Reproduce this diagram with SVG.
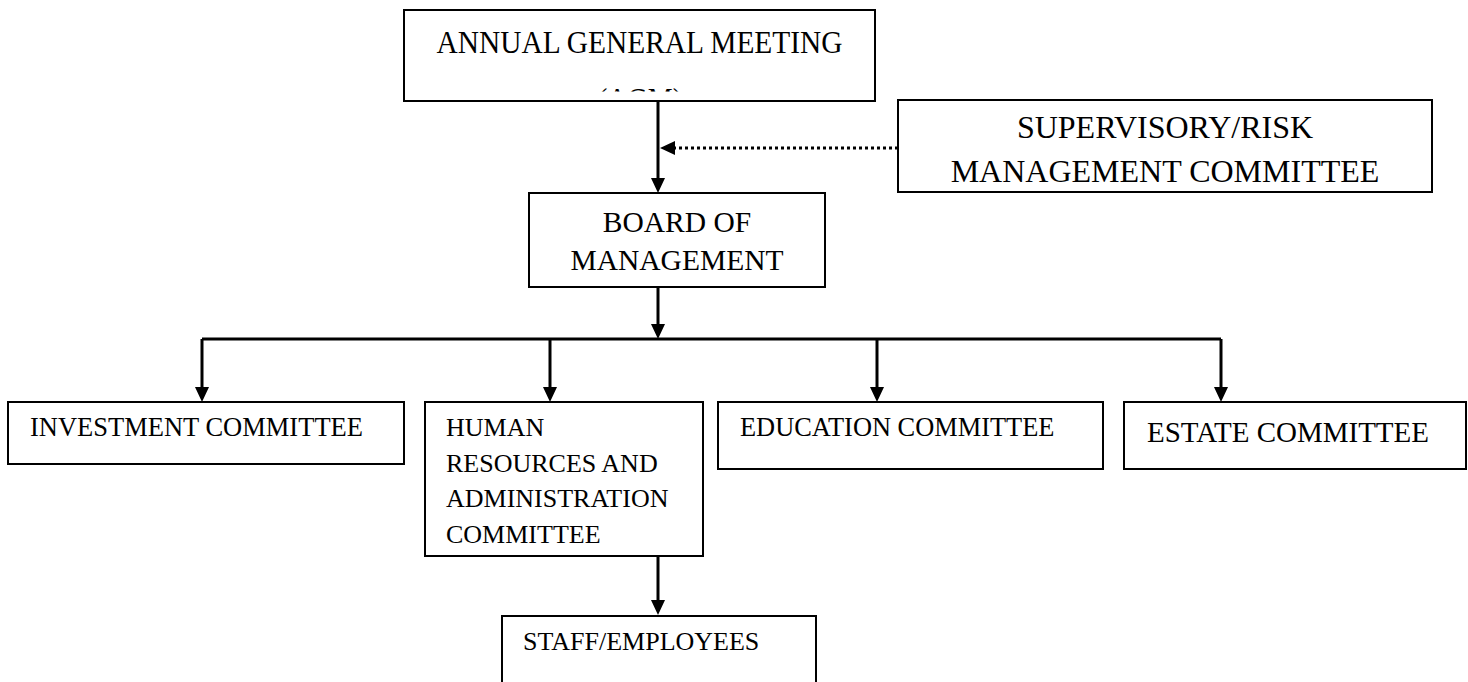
<svg xmlns="http://www.w3.org/2000/svg" width="1468" height="682" viewBox="0 0 1468 682">
  <style>
    .box { fill: #ffffff; stroke: #000000; stroke-width: 2; }
    .label { font-family: "Liberation Serif", "Times New Roman", serif; fill: #000000; }
    .link { fill: none; stroke: #000000; stroke-width: 3; }
    .dotted { stroke-dasharray: 3 3; }
  </style>
  <defs>
    <marker id="arrow" markerUnits="userSpaceOnUse" markerWidth="15" markerHeight="14" refX="7" refY="7" orient="auto">
      <path d="M0,0 L15,7 L0,14 Z" fill="#000000" stroke="none"/>
    </marker>
    <!-- text frame of the AGM box: the second line runs past it -->
    <clipPath id="agm-frame">
      <rect x="404" y="10" width="471" height="81.5"/>
    </clipPath>
  </defs>

  <!-- connectors -->
  <g id="connectors">
    <path class="link" d="M658,101 L658,185" marker-end="url(#arrow)"/>
    <path class="link dotted" d="M898,148 L668,148" marker-end="url(#arrow)"/>
    <path class="link" d="M658,287 L658,331" marker-end="url(#arrow)"/>
    <path class="link" d="M202,339 L1221,339"/>
    <path class="link" d="M202,339 L202,394" marker-end="url(#arrow)"/>
    <path class="link" d="M550,339 L550,394" marker-end="url(#arrow)"/>
    <path class="link" d="M877,339 L877,394" marker-end="url(#arrow)"/>
    <path class="link" d="M1221,339 L1221,394" marker-end="url(#arrow)"/>
    <path class="link" d="M658,556 L658,607" marker-end="url(#arrow)"/>
  </g>

  <g id="agm">
    <rect class="box" x="404" y="10" width="471" height="91"/>
    <text class="label" x="436.5" y="53" font-size="32" textLength="406" lengthAdjust="spacingAndGlyphs">ANNUAL GENERAL MEETING</text>
    <text class="label" x="598" y="110" font-size="32" textLength="84" lengthAdjust="spacingAndGlyphs" clip-path="url(#agm-frame)">(AGM)</text>
  </g>

  <g id="supervisory">
    <rect class="box" x="898" y="100" width="534" height="92"/>
    <text class="label" x="1165" y="138" font-size="32" text-anchor="middle">SUPERVISORY/RISK</text>
    <text class="label" x="1165" y="182" font-size="32" text-anchor="middle">MANAGEMENT COMMITTEE</text>
  </g>

  <g id="board">
    <rect class="box" x="529" y="193" width="296" height="94"/>
    <text class="label" x="677" y="232" font-size="29.5" text-anchor="middle">BOARD OF</text>
    <text class="label" x="677" y="270" font-size="29.5" text-anchor="middle">MANAGEMENT</text>
  </g>

  <g id="investment">
    <rect class="box" x="8" y="402" width="396" height="62"/>
    <text class="label" x="30" y="436" font-size="26.5">INVESTMENT COMMITTEE</text>
  </g>

  <g id="human-resources">
    <rect class="box" x="425" y="402" width="278" height="154"/>
    <text class="label" x="446" y="436" font-size="26">HUMAN</text>
    <text class="label" x="446" y="472" font-size="26">RESOURCES AND</text>
    <text class="label" x="446" y="507" font-size="26">ADMINISTRATION</text>
    <text class="label" x="446" y="543" font-size="26">COMMITTEE</text>
  </g>

  <g id="education">
    <rect class="box" x="718" y="402" width="385" height="67"/>
    <text class="label" x="740" y="436" font-size="26.4">EDUCATION COMMITTEE</text>
  </g>

  <g id="estate">
    <rect class="box" x="1124" y="402" width="342" height="67"/>
    <text class="label" x="1147" y="442" font-size="29">ESTATE COMMITTEE</text>
  </g>

  <g id="staff">
    <rect class="box" x="502" y="616" width="314" height="80"/>
    <text class="label" x="523" y="650" font-size="26">STAFF/EMPLOYEES</text>
  </g>
</svg>
